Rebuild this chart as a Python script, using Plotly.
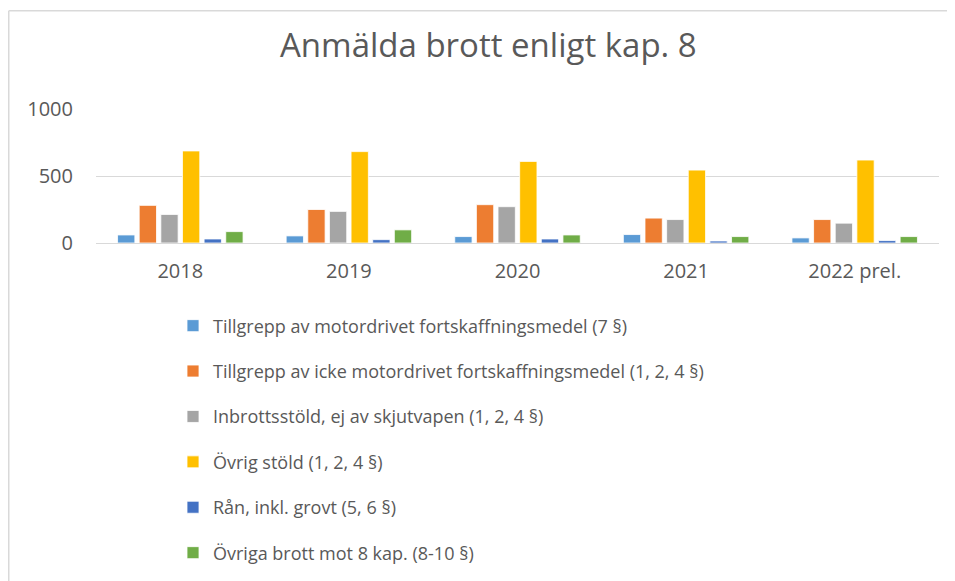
import plotly.graph_objects as go

years = ["2018", "2019", "2020", "2021", "2022 prel."]
series_names = [
    "Tillgrepp av motordrivet fortskaffningsmedel (7 §)",
    "Tillgrepp av icke motordrivet fortskaffningsmedel (1, 2, 4 §)",
    "Inbrottsstöld, ej av skjutvapen (1, 2, 4 §)",
    "Övrig stöld (1, 2, 4 §)",
    "Rån, inkl. grovt (5, 6 §)",
    "Övriga brott mot 8 kap. (8-10 §)",
]
motordrivet = [60, 53, 48, 63, 38]
icke_motordrivet = [281, 250, 286, 186, 175]
inbrottsstold = [213, 236, 271, 175, 148]
ovrig_stold = [687, 682, 609, 544, 619]
ran = [30, 25, 30, 15, 18]
ovriga_brott = [85, 98, 60, 48, 48]
colors = ["#5B9BD5", "#ED7D31", "#A5A5A5", "#FFC000", "#4472C4", "#70AD47"]

values = [motordrivet, icke_motordrivet, inbrottsstold, ovrig_stold, ran, ovriga_brott]

FONT = "Open Sans"
# plot area in figure pixels (page has an 8px body offset)
L, R, T, B = 88, 931, 101, 234.7
PW, PH = R - L, B - T

fig = go.Figure()
for i, (name, vals) in enumerate(zip(series_names, values)):
    fig.add_trace(go.Bar(
        x=years, y=vals, name=name,
        marker=dict(color=colors[i], line=dict(color="white", width=0.8)),
        legendgroup=f"g{i}",
    ))

fig.update_layout(
    width=955, height=581,
    margin=dict(l=L, r=955 - R, t=T, b=581 - B),
    paper_bgcolor="white", plot_bgcolor="white",
    font=dict(family=FONT, color="#595959", size=18),
    title=dict(text="Anmälda brott enligt kap. 8", x=0.503, xanchor="center",
               y=0.935, yanchor="middle",
               font=dict(family=FONT, size=33, color="#595959")),
    barmode="group", bargap=0.23, bargroupgap=0.2,
    showlegend=True,
    legend=dict(orientation="v", x=(165 - L) / PW, xanchor="left",
                y=(B - 299) / PH, yanchor="top",
                font=dict(family=FONT, size=18, color="#595959"),
                tracegroupgap=19, bgcolor="rgba(0,0,0,0)"),
    xaxis=dict(showgrid=False, showline=True, linecolor="#D9D9D9", linewidth=1,
               ticks="", tickfont=dict(size=20), ticklabelstandoff=10),
    yaxis=dict(range=[0, 1000], tickvals=[0, 500, 1000], showgrid=True,
               gridcolor="#D9D9D9", gridwidth=1, zeroline=False, showline=False,
               ticks="", tickfont=dict(size=20), ticklabelstandoff=22),
)
# outer chart frame (left and top)
fx = (0.75 - L) / PW
fy = (B - 3) / PH
fig.add_shape(type="line", xref="paper", yref="paper",
              x0=fx, x1=fx, y0=(B - 600) / PH, y1=fy,
              line=dict(color="#D9D9D9", width=1.5))
fig.add_shape(type="line", xref="paper", yref="paper",
              x0=fx, x1=(955 - L) / PW, y0=fy, y1=fy,
              line=dict(color="#D9D9D9", width=1.5))

fig.write_html("out.html")
